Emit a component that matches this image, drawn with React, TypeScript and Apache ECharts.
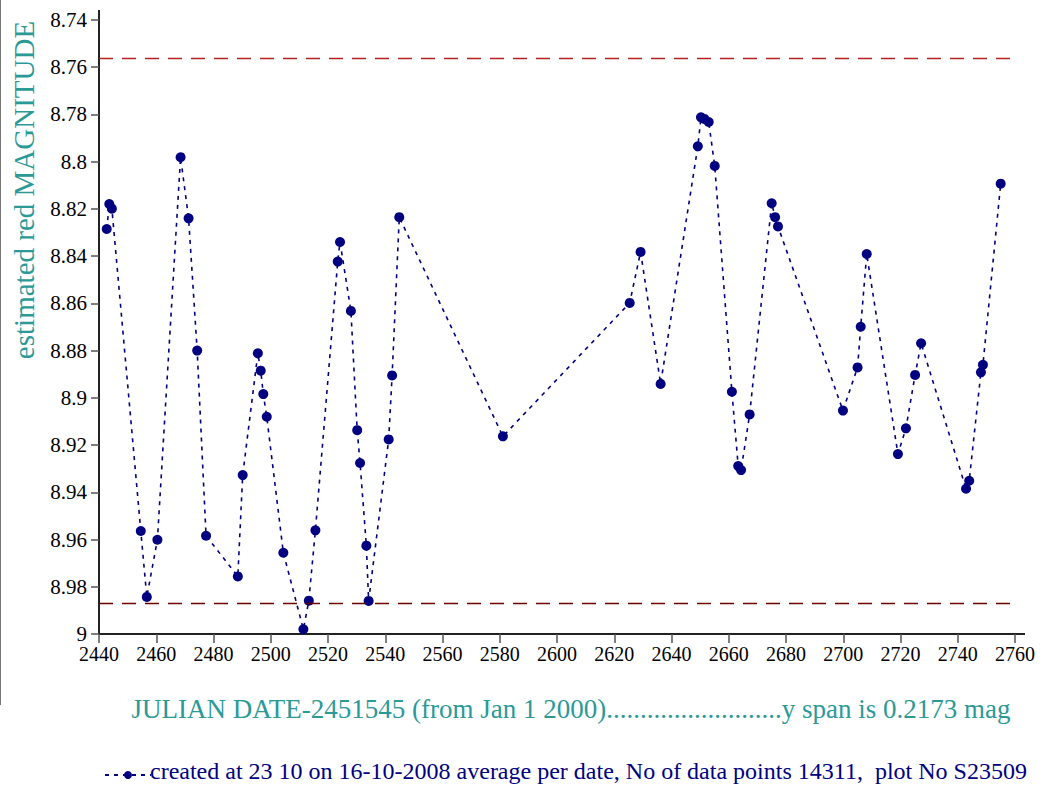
import React, { useEffect, useRef } from "react";
import * as echarts from "echarts";

// Julian date - 2451545 (days from Jan 1 2000)
const julianDays: number[] = [
  2442.7, 2443.6, 2444.5, 2454.6, 2456.7, 2460.4, 2468.5, 2471.3, 2474.3, 2477.4,
  2488.5, 2490.2, 2495.5, 2496.5, 2497.4, 2498.6, 2504.4, 2511.4, 2513.3, 2515.6,
  2523.4, 2524.2, 2528.0, 2530.2, 2531.2, 2533.4, 2534.2, 2541.2, 2542.4, 2544.9,
  2581.1, 2625.4, 2629.2, 2636.2, 2649.2, 2650.3, 2651.5, 2653.0, 2655.1, 2661.1,
  2663.3, 2664.3, 2667.3, 2675.0, 2676.2, 2677.2, 2699.9, 2705.0, 2706.1, 2708.2,
  2719.1, 2721.9, 2725.1, 2727.2, 2742.9, 2744.0, 2748.1, 2748.8, 2755.0,
];

// estimated red magnitude (average per date)
const magnitudes: number[] = [
  8.8285, 8.8179, 8.8199, 8.9564, 8.9843, 8.9601, 8.7981, 8.824, 8.88, 8.9584,
  8.9756, 8.9327, 8.8811, 8.8885, 8.8984, 8.908, 8.9656, 8.998, 8.9859, 8.9561,
  8.8423, 8.834, 8.8632, 8.9137, 8.9276, 8.9626, 8.986, 8.9176, 8.8905, 8.8235,
  8.9163, 8.8598, 8.8382, 8.8941, 8.7935, 8.7812, 8.7819, 8.7832, 8.8018, 8.8974,
  8.9289, 8.9306, 8.907, 8.8176, 8.8235, 8.8274, 8.9054, 8.8871, 8.8699, 8.8391,
  8.9238, 8.9129, 8.8903, 8.8769, 8.9385, 8.9351, 8.8892, 8.886, 8.8093,
];

const upperRef = 8.756;
const lowerRef = 8.987;

// tick labels
const xTicks: number[] = [
  2440, 2460, 2480, 2500, 2520, 2540, 2560, 2580, 2600, 2620, 2640, 2660, 2680, 2700, 2720,
  2740, 2760,
];
const yTicks: number[] = [
  8.74, 8.76, 8.78, 8.8, 8.82, 8.84, 8.86, 8.88, 8.9, 8.92, 8.94, 8.96, 8.98, 9,
];
const yTickLabels: string[] = [
  "8.74", "8.76", "8.78", "8.8", "8.82", "8.84", "8.86", "8.88", "8.9", "8.92", "8.94",
  "8.96", "8.98", "9",
];

const xMin = 2440;
const xMax = 2760;
const xStep = 20;
const yMin = 8.74;
const yMax = 9;
const yStep = 0.02;

const yTitle = "estimated red MAGNITUDE";
const xTitle =
  "JULIAN DATE-2451545 (from Jan 1 2000)" + ".".repeat(26) + "y span is 0.2173 mag";
const legendText =
  "created at 23 10 on 16-10-2008 average per date, No of data points 14311,  plot No S23509";

const FONT = "Liberation Serif";
const TEAL = "#2b9a97";
const NAVY = "#000080";

export default function App() {
  const ref = useRef<HTMLDivElement>(null);

  useEffect(() => {
    if (!ref.current) return;
    const chart = echarts.init(ref.current, undefined, { renderer: "svg" });
    const points = julianDays.map((d, i) => [d, magnitudes[i]]);

    chart.setOption({
      animation: false,
      backgroundColor: "#ffffff",
      textStyle: { fontFamily: FONT },
      grid: { left: 99, top: 20, width: 916, height: 614, containLabel: false },
      xAxis: {
        type: "value",
        min: xMin,
        max: xMax,
        interval: xStep,
        axisLine: { show: true, onZero: false, lineStyle: { color: "#222", width: 2 } },
        axisTick: { show: true, length: 9, lineStyle: { color: "#555", width: 1.5 } },
        axisLabel: { show: false },
        splitLine: { show: false },
      },
      yAxis: {
        type: "value",
        inverse: true,
        min: yMin,
        max: yMax,
        interval: yStep,
        axisLine: { show: true, onZero: false, lineStyle: { color: "#222", width: 2 } },
        axisTick: { show: true, length: 8, lineStyle: { color: "#555", width: 1.5 } },
        axisLabel: { show: false },
        splitLine: { show: false },
      },
      legend: {
        show: true,
        left: 99,
        top: 765,
        itemWidth: 46,
        itemHeight: 10,
        itemGap: 0,
        formatter: () => "",
        data: [{ name: legendText }],
      },
      series: [
        {
          name: legendText,
          type: "line",
          data: points,
          symbol: "circle",
          symbolSize: 10,
          itemStyle: { color: NAVY },
          lineStyle: { color: NAVY, width: 1.6, type: [4, 5] },
          markLine: {
            silent: true,
            precision: 4,
            symbol: ["none", "none"],
            label: { show: false },
            data: [
              { yAxis: upperRef, lineStyle: { color: "#b52020", width: 1.3, type: [14, 9] } },
              { yAxis: lowerRef, lineStyle: { color: "#6e0000", width: 1.3, type: [14, 9] } },
            ],
          },
        },
      ],
    });

    const elements: any[] = [
      {
        type: "line",
        shape: { x1: 99, y1: 21, x2: 99, y2: 10 },
        style: { stroke: "#222", lineWidth: 2 },
      },
      {
        type: "line",
        shape: { x1: 1014, y1: 634, x2: 1025, y2: 634 },
        style: { stroke: "#222", lineWidth: 2 },
      },
      {
        type: "line",
        shape: { x1: 0.5, y1: 0, x2: 0.5, y2: 705 },
        style: { stroke: "#777", lineWidth: 1 },
      },
      {
        type: "text",
        x: 24,
        y: 190,
        rotation: Math.PI / 2,
        style: {
          text: yTitle,
          fill: TEAL,
          fontSize: 29,
          fontFamily: FONT,
          align: "center",
          verticalAlign: "middle",
        },
      },
      {
        type: "text",
        x: 571,
        y: 709,
        style: {
          text: xTitle,
          fill: TEAL,
          fontSize: 27,
          fontFamily: FONT,
          align: "center",
          verticalAlign: "middle",
        },
      },
      {
        type: "text",
        x: 150,
        y: 771,
        style: {
          text: legendText,
          fill: NAVY,
          fontSize: 24,
          fontFamily: FONT,
          align: "left",
          verticalAlign: "middle",
        },
      },
    ];

    const xAxisY = chart.convertToPixel({ yAxisIndex: 0 }, yMax) as number;
    const yAxisX = chart.convertToPixel({ xAxisIndex: 0 }, xMin) as number;
    xTicks.forEach((v) => {
      const px = chart.convertToPixel({ xAxisIndex: 0 }, v) as number;
      elements.push({
        type: "text",
        x: px,
        y: xAxisY + 10,
        style: {
          text: String(v),
          fill: "#000",
          fontSize: 20,
          fontFamily: FONT,
          align: "center",
          verticalAlign: "top",
        },
      });
    });
    yTicks.forEach((v, i) => {
      const py = chart.convertToPixel({ yAxisIndex: 0 }, v) as number;
      elements.push({
        type: "text",
        x: yAxisX - 12,
        y: py,
        style: {
          text: yTickLabels[i],
          fill: "#000",
          fontSize: 21,
          fontFamily: FONT,
          align: "right",
          verticalAlign: "middle",
        },
      });
    });

    chart.setOption({ graphic: { elements } });

    return () => chart.dispose();
  }, []);

  return (
    <div
      ref={ref}
      style={{ position: "fixed", left: 0, top: 0, width: 1042, height: 785 }}
    />
  );
}
